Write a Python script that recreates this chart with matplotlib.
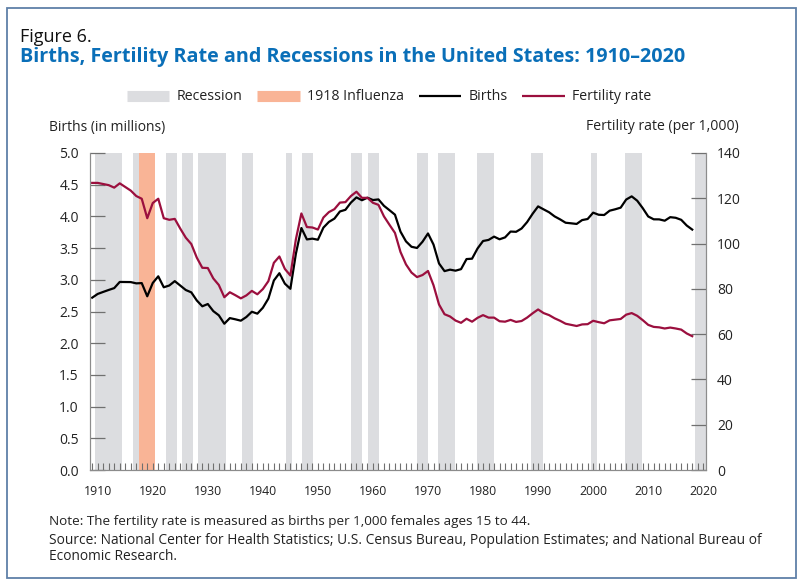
import numpy as np
import matplotlib.pyplot as plt
from matplotlib.lines import Line2D

plt.rcParams['font.family'] = ['Open Sans', 'DejaVu Sans']

years = list(range(1909, 2019))

# births in millions, 1909-2018
births = [2.718, 2.777, 2.809, 2.840, 2.869, 2.966, 2.965, 2.964, 2.944, 2.948,
          2.740, 2.950, 3.055, 2.882, 2.910, 2.979, 2.909, 2.839, 2.802, 2.674,
          2.582, 2.618, 2.506, 2.440, 2.307, 2.396, 2.377, 2.355, 2.413, 2.496,
          2.466, 2.559, 2.703, 2.989, 3.104, 2.939, 2.858, 3.411, 3.817, 3.637,
          3.649, 3.632, 3.823, 3.913, 3.965, 4.078, 4.104, 4.218, 4.300, 4.255,
          4.295, 4.258, 4.268, 4.167, 4.098, 4.027, 3.760, 3.606, 3.521, 3.502,
          3.600, 3.731, 3.556, 3.258, 3.137, 3.160, 3.144, 3.168, 3.327, 3.333,
          3.494, 3.612, 3.629, 3.681, 3.639, 3.669, 3.761, 3.757, 3.809, 3.910,
          4.041, 4.158, 4.111, 4.065, 4.000, 3.953, 3.900, 3.891, 3.881, 3.942,
          3.959, 4.059, 4.026, 4.022, 4.090, 4.112, 4.138, 4.266, 4.316, 4.248,
          4.131, 3.999, 3.954, 3.953, 3.932, 3.988, 3.978, 3.946, 3.856, 3.792]

# fertility rate per 1,000 females 15-44, 1909-2018
fertility = [126.8, 126.8, 126.3, 125.8, 124.7, 126.6, 125.0, 123.4, 121.0, 119.8,
             111.2, 117.9, 119.8, 111.2, 110.5, 110.9, 106.6, 102.6, 99.8, 93.8,
             89.3, 89.2, 84.6, 81.7, 76.3, 78.5, 77.2, 75.8, 77.1, 79.1,
             77.6, 79.9, 83.4, 91.5, 94.3, 88.8, 85.9, 101.9, 113.3, 107.3,
             107.1, 106.2, 111.5, 113.9, 115.2, 118.1, 118.3, 121.0, 122.9, 120.2,
             120.2, 118.0, 117.1, 112.0, 108.3, 104.7, 96.3, 90.8, 87.2, 85.2,
             86.1, 87.9, 81.6, 73.1, 68.8, 67.8, 66.0, 65.0, 66.8, 65.5,
             67.2, 68.4, 67.3, 67.3, 65.7, 65.5, 66.3, 65.4, 65.8, 67.3,
             69.2, 70.9, 69.3, 68.4, 67.0, 65.9, 64.6, 64.1, 63.6, 64.3,
             64.4, 65.9, 65.3, 64.8, 66.1, 66.4, 66.7, 68.6, 69.3, 68.1,
             66.2, 64.1, 63.2, 63.0, 62.5, 62.9, 62.5, 62.0, 60.3, 59.1]

# recession bands as drawn (start, end)
rec_start = [1909.5, 1916.5, 1922.4, 1925.4, 1928.3, 1936.3, 1944.2, 1947.2, 1956.0,
             1959.1, 1968.0, 1971.9, 1978.9, 1988.7, 1999.6, 2005.8, 2018.5]
rec_end = [1914.4, 1917.5, 1924.4, 1927.4, 1933.3, 1938.3, 1945.3, 1949.2, 1958.1,
           1961.1, 1970.0, 1974.9, 1981.9, 1990.8, 2000.7, 2008.8, 2020.5]
flu_start, flu_end = 1917.5, 1920.4

gray = '#dcdde0'
orange = '#f9b496'
red = '#9b0f3e'
axis_col = '#8c8c8c'
txt = '#222222'

fig = plt.figure(figsize=(8, 5.86), dpi=100)
ax = fig.add_axes([90/800, 1-470/586, 616/800, 317/586])
ax2 = ax.twinx()

for s, e in zip(rec_start, rec_end):
    ax.axvspan(s, e, color=gray, lw=0, zorder=0)
ax.axvspan(flu_start, flu_end, color=orange, lw=0, zorder=0.5)

ax.plot(years, births, color='black', lw=1.6, zorder=3)
ax2.plot(years, fertility, color=red, lw=1.6, zorder=3)

ax.set_xlim(1908.6, 2020.5)
ax.set_ylim(0, 5.0)
ax2.set_ylim(0, 140)
ax.set_yticks(np.arange(0, 5.01, 0.5))
ax.set_yticklabels([f'{v:.1f}' for v in np.arange(0, 5.01, 0.5)])
ax2.set_yticks(range(0, 141, 20))
ax.set_xticks(range(1910, 2021, 10))
ax.set_xticks(range(1909, 2021), minor=True)

for a in (ax, ax2):
    for side in a.spines:
        a.spines[side].set_color(axis_col)
    a.spines['top'].set_visible(False)
ax.tick_params(axis='y', direction='in', length=11, width=0.9, color='#707070',
               labelsize=10, pad=8, labelcolor=txt)
ax2.tick_params(axis='y', direction='in', length=11, width=0.9, color='#707070',
                labelsize=10, pad=8, labelcolor=txt)
ax.tick_params(axis='x', which='both', direction='in', length=5, width=0.8,
               color='#707070', labelsize=8.8, pad=11, labelcolor=txt)

# legend
handles = [Line2D([], [], color=gray, lw=8, solid_capstyle='butt'),
           Line2D([], [], color=orange, lw=8, solid_capstyle='butt'),
           Line2D([], [], color='black', lw=1.6, solid_capstyle='butt'),
           Line2D([], [], color=red, lw=1.6, solid_capstyle='butt')]
labels = ['Recession', '1918 Influenza', 'Births', 'Fertility rate']
fig.legend(handles, labels, loc='center', bbox_to_anchor=(389/800, 1-97/586), ncol=4,
           frameon=False, fontsize=10.2, handlelength=3.0, handletextpad=0.5,
           columnspacing=1.05, labelcolor=txt)

fig.text(20/800, 1-37/586, 'Figure 6.', fontsize=13, va='center', color='#111111')
fig.text(20/800, 1-57/586, 'Births, Fertility Rate and Recessions in the United States: 1910–2020',
         fontsize=14.2, fontweight='bold', color='#0a6fb8', va='center')
fig.text(49/800, 1-127/586, 'Births (in millions)', fontsize=10, va='center', color=txt)
fig.text(739/800, 1-127/586, 'Fertility rate (per 1,000)', fontsize=10.1, va='center',
         ha='right', color=txt)
fig.text(49/800, 1-521/586,
         'Note: The fertility rate is measured as births per 1,000 females ages 15 to 44.',
         fontsize=9.7, va='center', color=txt)
fig.text(49/800, 1-540/586,
         'Source: National Center for Health Statistics; U.S. Census Bureau, Population Estimates; and National Bureau of',
         fontsize=9.9, va='center', color=txt)
fig.text(49/800, 1-557/586, 'Economic Research.', fontsize=9.9, va='center', color=txt)

# outer frame
fig.add_artist(plt.Rectangle((7/800, 8/586), 789/800, 570/586, transform=fig.transFigure,
                             fill=False, edgecolor='#5f80a8', lw=1.3))

fig.savefig('out.png', dpi=100)
